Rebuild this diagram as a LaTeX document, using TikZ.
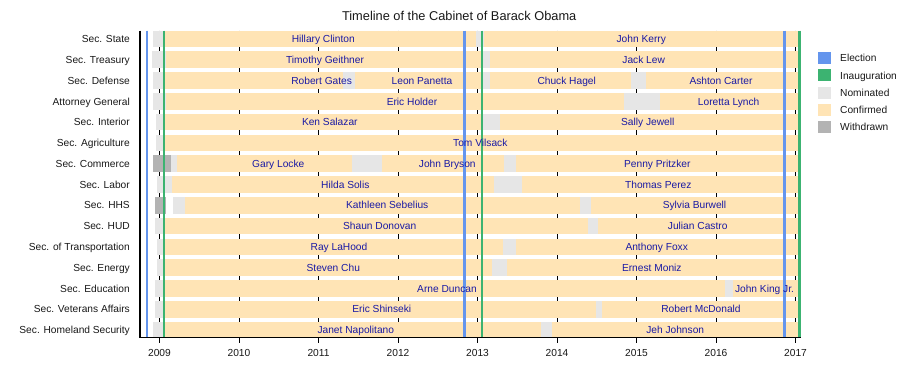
\documentclass[tikz,border=0pt]{standalone}
\usepackage{fontspec}
\setmainfont{Liberation Sans}
\definecolor{conf}{RGB}{255,228,181}
\definecolor{nom}{RGB}{230,230,230}
\definecolor{wd}{RGB}{179,179,179}
\definecolor{elec}{RGB}{100,149,237}
\definecolor{inaug}{RGB}{60,179,113}
\definecolor{namec}{RGB}{26,26,165}
\definecolor{labc}{RGB}{25,25,25}
\newcommand\cabseg[4]{\fill[fill=#4] (#2,{30.7+20.79*(#1-1)}) rectangle (#3,{47.3+20.79*(#1-1)});}
\newcommand\cabyc[1]{39.0+20.79*(#1-1)}
\newcommand\cabend{799.6}
\begin{document}
\begin{tikzpicture}[x=1pt,y=-1pt,
  every node/.style={font=\fontsize{10.2}{12}\selectfont, inner sep=0pt, text height=7.3pt, text depth=0pt},
  rowlab/.style={anchor=east, text=labc},
  namelab/.style={anchor=center, text=namec},
  yearlab/.style={anchor=center, text=labc},
  legtext/.style={anchor=west, text=labc},
  legbox/.style={minimum width=12.3pt, minimum height=12pt, anchor=center},
  gridline/.style={black, line width=0.8pt},
  eventline/.style={line width=2.8pt},
  axisline/.style={black, line width=1.1pt}]
\useasboundingbox (0,0) rectangle (900,383);
\fill[white] (0,0) rectangle (900,383);
% title
\node[font=\fontsize{12.8}{15}\selectfont, text height=9.2pt, anchor=center, text=labc] (title) at (459.2,16) {Timeline of the Cabinet of Barack Obama};
% grid lines
\foreach \yr in {0,...,8} {\draw[gridline] ({159.5+79.5*\yr},30.7) -- ({159.5+79.5*\yr},337.7);}
% bars
\foreach \a/\b/\c in {152.7/164.5/nom,164.5/475.7/conf,475.7/483.6/nom,483.6/\cabend/conf} {\cabseg{1}{\a}{\b}{\c}}
\foreach \a/\b/\c in {151.7/165.5/nom,165.5/482/conf,482/490/nom,490/\cabend/conf} {\cabseg{2}{\a}{\b}{\c}}
\foreach \a/\b/\c in {152.7/165/nom,165/343/conf,343/355/nom,355/482/conf,482/490/nom,490/630.7/conf,630.7/645.7/nom,645.7/\cabend/conf} {\cabseg{3}{\a}{\b}{\c}}
\foreach \a/\b/\c in {153.3/166/nom,166/624/conf,624/660/nom,660/\cabend/conf} {\cabseg{4}{\a}{\b}{\c}}
\foreach \a/\b/\c in {156/164/nom,164/483/conf,483/499.5/nom,499.5/\cabend/conf} {\cabseg{5}{\a}{\b}{\c}}
\foreach \a/\b/\c in {156/164/nom,164/\cabend/conf} {\cabseg{6}{\a}{\b}{\c}}
\foreach \a/\b/\c in {152.7/171/wd,171/177/nom,177/351.7/conf,351.7/381.7/nom,381.7/504/conf,504/515.7/nom,515.7/\cabend/conf} {\cabseg{7}{\a}{\b}{\c}}
\foreach \a/\b/\c in {157/171.5/nom,171.5/494.3/conf,494.3/521.7/nom,521.7/\cabend/conf} {\cabseg{8}{\a}{\b}{\c}}
\foreach \a/\b/\c in {155/166/wd,173.3/185/nom,185/580/conf,580/591/nom,591/\cabend/conf} {\cabseg{9}{\a}{\b}{\c}}
\foreach \a/\b/\c in {155/164/nom,164/588.3/conf,588.3/597.7/nom,597.7/\cabend/conf} {\cabseg{10}{\a}{\b}{\c}}
\foreach \a/\b/\c in {156.7/164/nom,164/503.3/conf,503.3/515.7/nom,515.7/\cabend/conf} {\cabseg{11}{\a}{\b}{\c}}
\foreach \a/\b/\c in {156.7/164/nom,164/491.7/conf,491.7/507.3/nom,507.3/\cabend/conf} {\cabseg{12}{\a}{\b}{\c}}
\foreach \a/\b/\c in {155/164/nom,164/725/conf,725/733.3/nom,733.3/\cabend/conf} {\cabseg{13}{\a}{\b}{\c}}
\foreach \a/\b/\c in {155/164/nom,164/596/conf,596/601.7/nom,601.7/\cabend/conf} {\cabseg{14}{\a}{\b}{\c}}
\foreach \a/\b/\c in {153.3/164/nom,164/541/conf,541/552.3/nom,552.3/\cabend/conf} {\cabseg{15}{\a}{\b}{\c}}
% event lines
\draw[eventline, elec] (146.9,30.7) -- (146.9,337.7);
\draw[eventline, elec] (464.8,30.7) -- (464.8,337.7);
\draw[eventline, elec] (784.3,30.7) -- (784.3,337.7);
\draw[eventline, inaug] (163.9,30.7) -- (163.9,337.7);
\draw[eventline, inaug] (482.0,30.7) -- (482.0,337.7);
\draw[eventline, inaug] (799.2,30.7) -- (799.2,337.7);
% axes
\draw[axisline] (140,30.7) -- (140,337.7) -- (800.5,337.7);
\foreach \yr [count=\i] in {2009,...,2017} {
  \draw[black, line width=0.8pt] ({159.5+79.5*(\i-1)},337.7) -- ({159.5+79.5*(\i-1)},343);
  \node[yearlab] (y\yr) at ({159.5+79.5*(\i-1)},353.3) {\yr};
}
% row labels
\foreach \t [count=\i] in {Sec. State,Sec. Treasury,Sec. Defense,Attorney General,Sec. Interior,Sec. Agriculture,Sec. Commerce,Sec. Labor,Sec. HHS,Sec. HUD,Sec. of Transportation,Sec. Energy,Sec. Education,Sec. Veterans Affairs,Sec. Homeland Security}
  {\node[rowlab] (row\i) at (130,{\cabyc{\i}}) {\t};}
% names
\node[namelab] (n1a) at (323.3,{\cabyc{1}}) {Hillary Clinton};
\node[namelab] (n1b) at (641.3,{\cabyc{1}}) {John Kerry};
\node[namelab] (n2a) at (325,{\cabyc{2}}) {Timothy Geithner};
\node[namelab] (n2b) at (643.7,{\cabyc{2}}) {Jack Lew};
\node[namelab] (n3a) at (321.7,{\cabyc{3}}) {Robert Gates};
\node[namelab] (n3b) at (422,{\cabyc{3}}) {Leon Panetta};
\node[namelab] (n3c) at (566.7,{\cabyc{3}}) {Chuck Hagel};
\node[namelab] (n3d) at (721,{\cabyc{3}}) {Ashton Carter};
\node[namelab] (n4a) at (412,{\cabyc{4}}) {Eric Holder};
\node[namelab] (n4b) at (728.7,{\cabyc{4}}) {Loretta Lynch};
\node[namelab] (n5a) at (329.8,{\cabyc{5}}) {Ken Salazar};
\node[namelab] (n5b) at (647.8,{\cabyc{5}}) {Sally Jewell};
\node[namelab] (n6a) at (480.3,{\cabyc{6}}) {Tom Vilsack};
\node[namelab] (n7a) at (278.3,{\cabyc{7}}) {Gary Locke};
\node[namelab] (n7b) at (447.3,{\cabyc{7}}) {John Bryson};
\node[namelab] (n7c) at (657.3,{\cabyc{7}}) {Penny Pritzker};
\node[namelab] (n8a) at (345.3,{\cabyc{8}}) {Hilda Solis};
\node[namelab] (n8b) at (658.3,{\cabyc{8}}) {Thomas Perez};
\node[namelab] (n9a) at (387.2,{\cabyc{9}}) {Kathleen Sebelius};
\node[namelab] (n9b) at (694.5,{\cabyc{9}}) {Sylvia Burwell};
\node[namelab] (n10a) at (379.7,{\cabyc{10}}) {Shaun Donovan};
\node[namelab] (n10b) at (697.7,{\cabyc{10}}) {Julian Castro};
\node[namelab] (n11a) at (339,{\cabyc{11}}) {Ray LaHood};
\node[namelab] (n11b) at (656.7,{\cabyc{11}}) {Anthony Foxx};
\node[namelab] (n12a) at (333.3,{\cabyc{12}}) {Steven Chu};
\node[namelab] (n12b) at (651.8,{\cabyc{12}}) {Ernest Moniz};
\node[namelab] (n13a) at (447,{\cabyc{13}}) {Arne Duncan};
\node[namelab] (n13b) at (764.5,{\cabyc{13}}) {John King Jr.};
\node[namelab] (n14a) at (381.8,{\cabyc{14}}) {Eric Shinseki};
\node[namelab] (n14b) at (701,{\cabyc{14}}) {Robert McDonald};
\node[namelab] (n15a) at (355.8,{\cabyc{15}}) {Janet Napolitano};
\node[namelab] (n15b) at (675.2,{\cabyc{15}}) {Jeh Johnson};
% legend
\foreach \col/\t [count=\i] in {elec/Election,inaug/Inauguration,nom/Nominated,conf/Confirmed,wd/Withdrawn} {
  \node[legbox, fill=\col] (lb\i) at (824.5,{58.3+17.1*(\i-1)}) {};
  \node[legtext] (lt\i) at (840,{58.3+17.1*(\i-1)}) {\t};
}
\end{tikzpicture}
\end{document}
